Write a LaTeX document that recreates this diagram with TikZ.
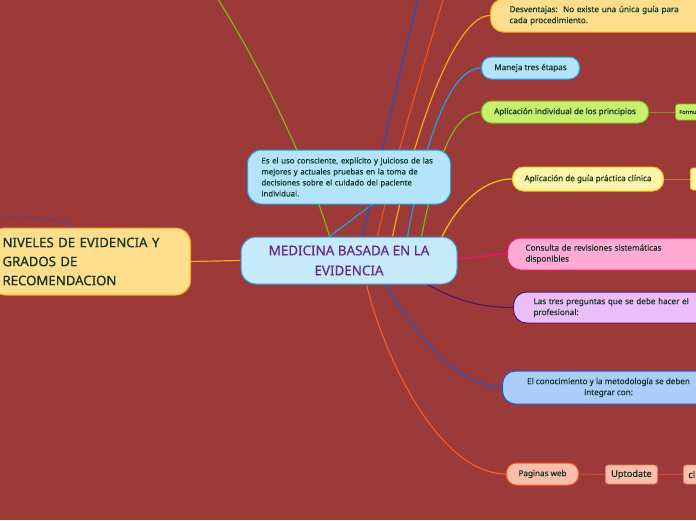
\documentclass[tikz,border=0pt]{standalone}
\usepackage{fontspec}
\setmainfont{Noto Sans}[FakeBold=0.35]
\usetikzlibrary{calc,arrows.meta,backgrounds}
\definecolor{bgc}{RGB}{156,58,58}
\definecolor{txt}{RGB}{15,50,35}
\definecolor{ctxt}{RGB}{100,40,140}
\definecolor{lgreen}{RGB}{130,180,20}
\definecolor{dblue}{RGB}{30,80,200}
\definecolor{ored}{RGB}{240,80,30}
\definecolor{yorange}{RGB}{245,170,20}
\definecolor{lblue}{RGB}{30,160,230}
\definecolor{ylw}{RGB}{240,200,20}
\definecolor{pinkc}{RGB}{240,20,110}
\definecolor{purp}{RGB}{90,20,110}
\definecolor{kblue}{RGB}{30,90,210}
\definecolor{orng}{RGB}{245,90,40}
\definecolor{fcentral}{RGB}{198,234,250}
\definecolor{dcentral}{RGB}{60,150,210}
\definecolor{fyel}{RGB}{254,222,140}
\definecolor{fblue}{RGB}{180,228,250}
\definecolor{fgreen}{RGB}{200,240,110}
\definecolor{flyel}{RGB}{255,245,170}
\definecolor{fpink}{RGB}{255,170,210}
\definecolor{flav}{RGB}{235,190,250}
\definecolor{fkblue}{RGB}{170,205,250}
\definecolor{fsalm}{RGB}{250,190,170}
\definecolor{dsalm}{RGB}{230,120,100}
\definecolor{olive}{RGB}{140,140,30}
\definecolor{brn}{RGB}{200,120,40}
\definecolor{leafline}{RGB}{220,70,40}
\tikzset{
  box/.style={rounded corners=11pt, line width=1pt, text=txt, inner sep=0pt,
    font=\fontsize{8.1}{11}\selectfont},
  leaf/.style={rounded corners=3pt, line width=0.8pt, text=txt, inner sep=0pt},
  conn/.style={line width=1.2pt},
  thinconn/.style={line width=0.9pt}
}
\begin{document}
\begin{tikzpicture}[x=1pt,y=-1pt]
\useasboundingbox (0,0) rectangle (696,520);

% central
\node[box, draw=dcentral, fill=fcentral, rounded corners=15pt, minimum width=216pt, minimum height=47pt,
  align=center, text=ctxt, font=\fontsize{13.4}{20}\selectfont] (c) at (349,260.5)
  {MEDICINA BASADA EN LA\\EVIDENCIA};
% left
\node[box, draw=yorange, fill=fyel, rounded corners=15pt, anchor=west, minimum height=67pt,
  inner xsep=12pt, text width=176pt, align=left, font=\fontsize{13.2}{19}\selectfont] (niv) at (-10,261.5)
  {NIVELES DE EVIDENCIA Y\\GRADOS DE\\RECOMENDACION};
% description
\node[box, draw=lblue, fill=fblue, rounded corners=14pt, anchor=west, minimum height=54pt,
  inner xsep=14pt, text width=175pt, align=left, font=\fontsize{7.8}{11}\selectfont] (desc) at (247,177)
  {Es el uso consciente, explícito y juicioso de las\\mejores y actuales pruebas en la toma de\\decisiones sobre el cuidado del paciente\\individual.};
% right nodes
\node[box, draw=yorange, fill=fyel, rounded corners=13pt, anchor=west, minimum height=33pt,
  inner xsep=19pt, text width=230pt, align=left] (desv) at (490,15.5)
  {Desventajas:\ \ No existe una única guía para\\cada procedimiento.};
\node[box, draw=lblue, fill=fblue, rounded corners=10pt, anchor=west, minimum width=98pt, minimum height=22pt,
  align=center] (man) at (481,68) {Maneja tres étapas};
\node[box, draw=lgreen, fill=fgreen, rounded corners=10pt, anchor=west, minimum width=167pt, minimum height=22pt,
  align=center] (apind) at (481,112) {Aplicación individual de los principios};
\node[leaf, draw=lgreen, fill=fgreen, anchor=west, minimum height=16pt, text width=34pt, inner xsep=4pt,
  align=left, font=\fontsize{5.5}{6}\selectfont] (form) at (675,112) {Formu};
\node[box, draw=ylw, fill=flyel, rounded corners=11pt, anchor=west, minimum width=151pt, minimum height=24pt,
  align=center] (guia) at (512,179) {Aplicación de guía práctica clínica};
\node[leaf, draw=ylw, fill=flyel, anchor=west, minimum height=22pt, minimum width=30pt] (guia2) at (690,179) {};
\node[box, draw=pinkc, fill=fpink, rounded corners=13pt, anchor=west, minimum height=32pt,
  inner xsep=18pt, text width=200pt, align=left] (cons) at (507,254)
  {Consulta de revisiones sistemáticas\\disponibles};
\node[box, draw=purp, fill=flav, rounded corners=13pt, anchor=west, minimum height=31pt,
  inner xsep=20pt, text width=200pt, align=left] (tres) at (513,307.5)
  {Las tres preguntas que se debe hacer el\\profesional:};
\node[box, draw=kblue, fill=fkblue, rounded corners=13pt, anchor=west, minimum height=33pt,
  minimum width=212pt, align=center] (cono) at (502,387.5)
  {El conocimiento y la metodología se deben\\integrar con:};
\node[box, draw=orng, fill=fsalm, rounded corners=10pt, anchor=west, minimum width=72pt, minimum height=22pt,
  align=center] (pag) at (506,474) {Paginas web};
\node[leaf, draw=dsalm, fill=fsalm, anchor=west, minimum width=52pt, minimum height=19pt,
  font=\fontsize{9.2}{12}\selectfont] (upt) at (605,474.5) {Uptodate};
\node[leaf, draw=dsalm, fill=fsalm, anchor=west, minimum height=19pt, text width=30pt, inner xsep=5pt,
  align=left, font=\fontsize{9.2}{12}\selectfont] (cl) at (683,474.5) {cl};

% free ends
\coordinate (g1) at (212,-10);
\coordinate (b1) at (420,-10);
\coordinate (r1) at (446,-10);
\coordinate (dstart) at (-2,217);
\coordinate (dend) at (72,228);

\begin{scope}[on background layer]
\fill[bgc] (0,0) rectangle (696,520);
\draw[conn, lgreen] ($(c.north west)+(89,0)$) .. controls (310,170) and (258,60) .. (g1);
\draw[conn, lblue] ($(c.north west)+(89,0)$) -- ($(desc.south west)+(125,0)$);
\draw[conn, dblue] ($(c.north west)+(122,0)$) .. controls (378,170) and (400,70) .. (b1);
\draw[conn, ored] ($(c.north west)+(137,0)$) .. controls (392,170) and (425,60) .. (r1);
\draw[conn, yorange] ($(c.north west)+(152,0)$) .. controls (415,130) and (455,15.5) .. (desv.west);
\draw[conn, lblue] ($(c.north west)+(167,0)$) .. controls (425,140) and (450,68) .. (man.west);
\draw[conn, lgreen] ($(c.north west)+(181,0)$) .. controls (435,170) and (450,112) .. (apind.west);
\draw[conn, ylw] ($(c.north west)+(201,1)$) .. controls (455,210) and (480,179) .. (guia.west);
\draw[conn, pinkc] ($(c.east)+(0,-2)$) .. controls (480,258) and (490,254) .. (cons.west);
\draw[conn, purp] ($(c.south west)+(187,0)$) .. controls (455,300) and (480,307.5) .. (tres.west);
\draw[conn, kblue] ($(c.south west)+(146,0)$) .. controls (415,335) and (460,387.5) .. (cono.west);
\draw[conn, orng] ($(c.south west)+(126,0)$) .. controls (385,360) and (440,474) .. (pag.west);
\draw[conn, yorange] (niv.east) -- (c.west);
\draw[thinconn, olive] (apind.east) -- (form.west);
\draw[thinconn, brn] (guia.east) -- (guia2.west);
\draw[thinconn, leafline] (pag.east) -- (upt.west);
\draw[thinconn, leafline] (upt.east) -- (cl.west);
\draw[dblue, line width=0.8pt, dash pattern=on 3pt off 2pt, -{Stealth[length=3pt,width=3pt]}]
  (dstart) .. controls (40,217) and (66,219) .. (dend);
\end{scope}
\end{tikzpicture}
\end{document}
